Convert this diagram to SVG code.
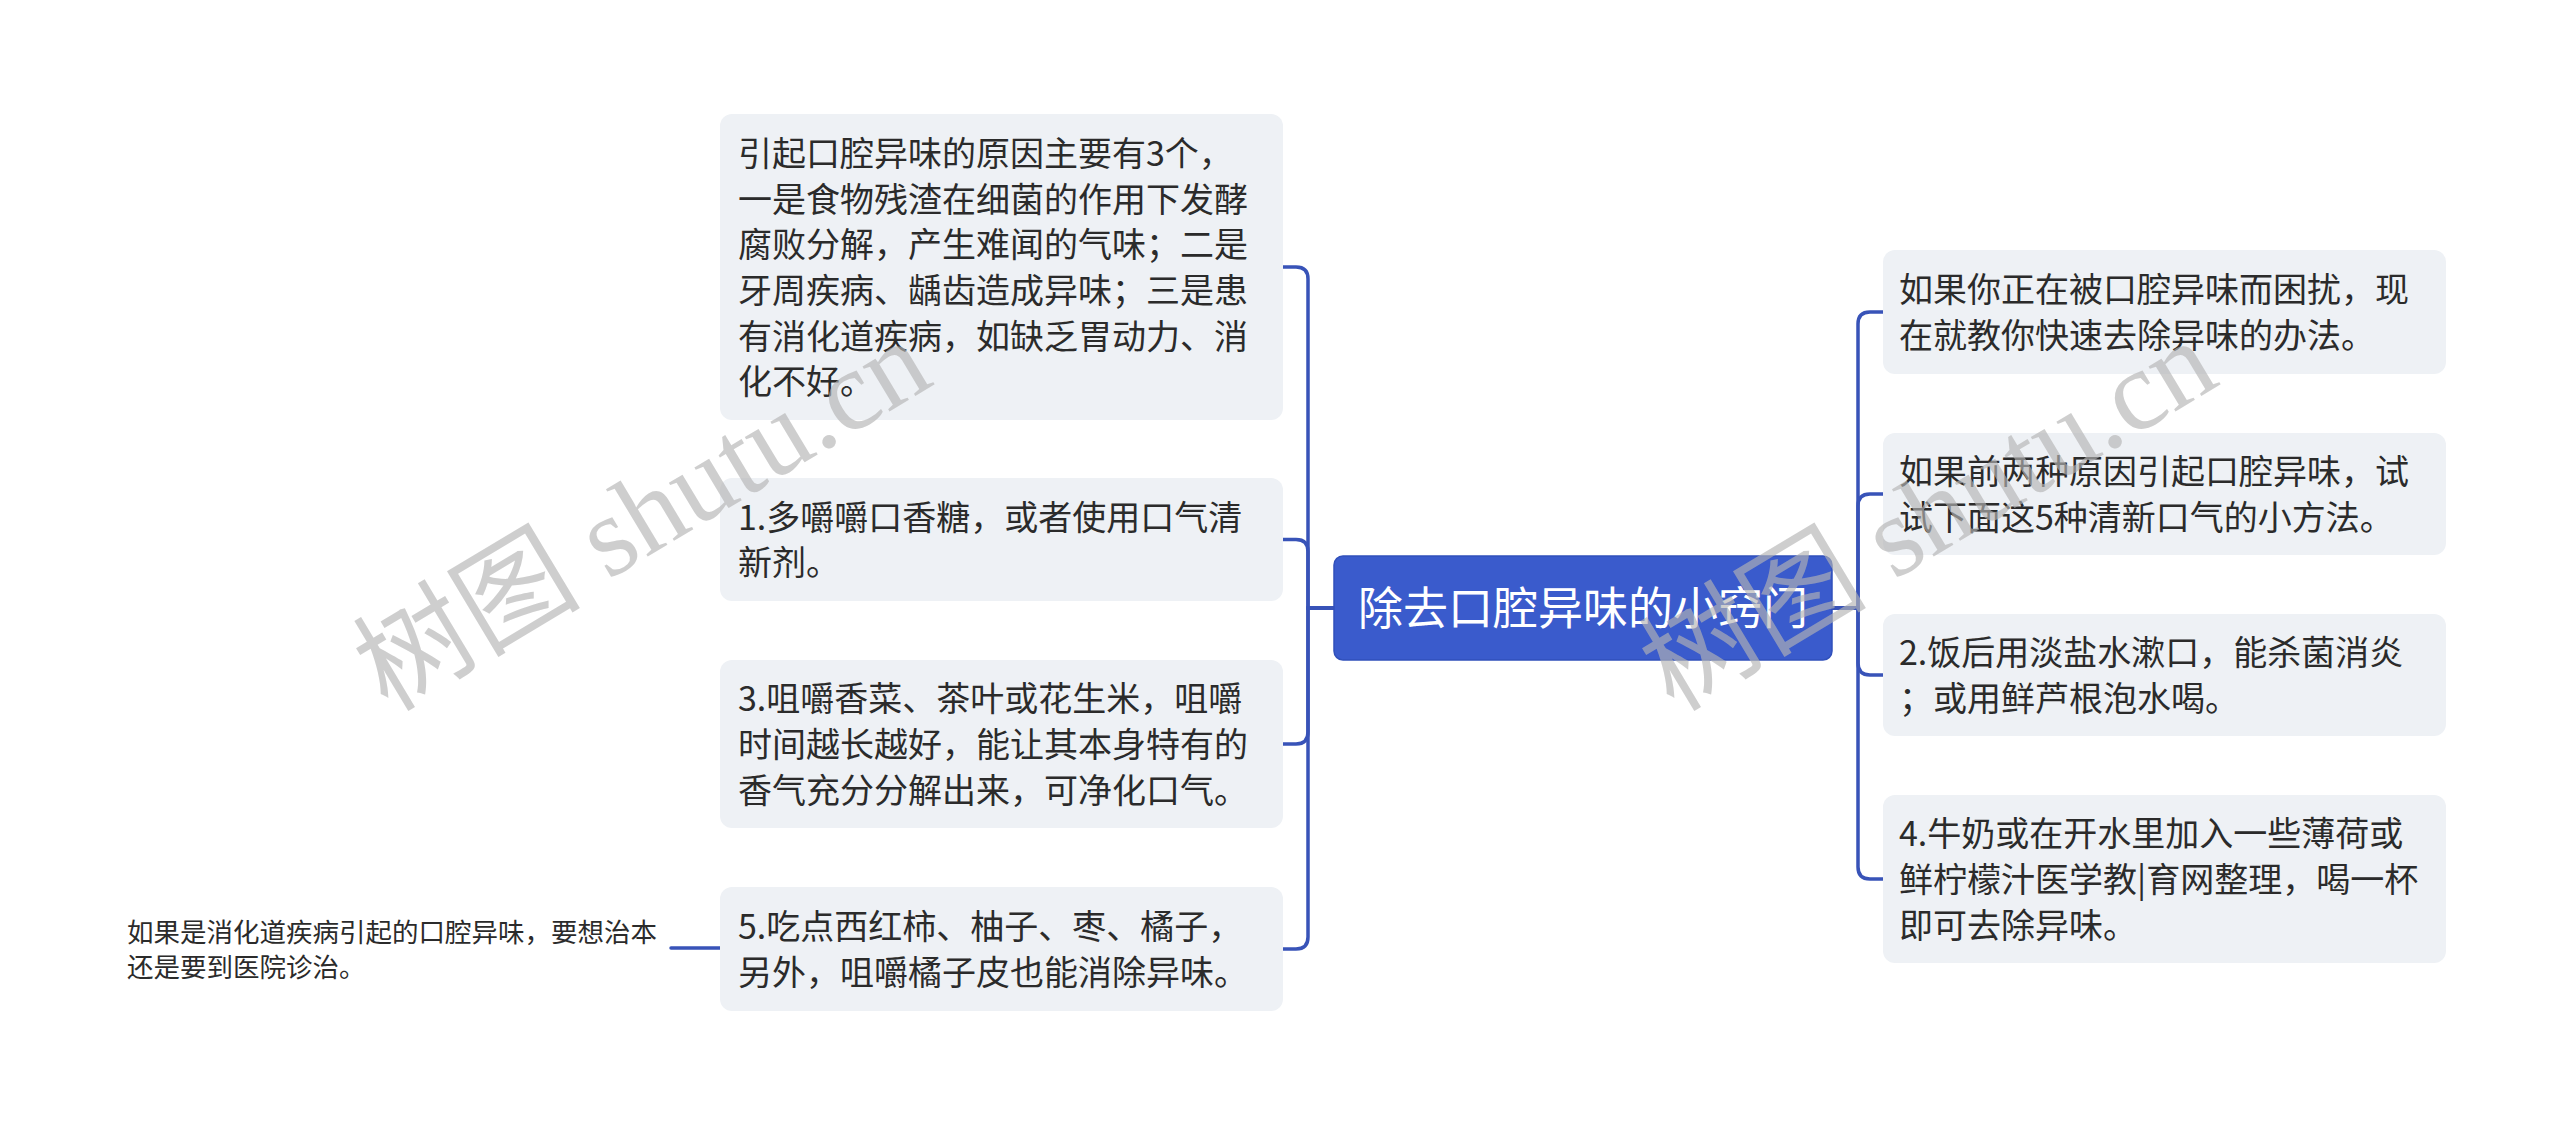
<svg xmlns="http://www.w3.org/2000/svg" width="2560" height="1125" viewBox="0 0 2560 1125">
<style>
.box{fill:#eef1f5;}
.t{font-family:"Noto Sans CJK SC","Noto Sans",sans-serif;font-size:34px;fill:#2b2b2b;}
.leaf{font-family:"Noto Sans CJK SC","Noto Sans",sans-serif;font-size:26.5px;fill:#2b2b2b;}
.ct{font-family:"Noto Sans CJK SC","Noto Sans",sans-serif;font-size:45px;fill:#ffffff;}
.c{fill:none;stroke:#3853b8;stroke-width:3.5;stroke-linecap:round;}
.wm{font-family:"Liberation Serif","Noto Sans CJK SC",serif;font-size:114px;fill:#b4b4b4;fill-opacity:0.65;}
</style>
<rect width="2560" height="1125" fill="#ffffff"/>
<g id="connectors">
<path class="c" d="M1334 608 H1308 V279 Q1308 267 1296 267 H1283"/>
<path class="c" d="M1334 608 H1308 V551.5 Q1308 539.5 1296 539.5 H1283"/>
<path class="c" d="M1334 608 H1308 V732 Q1308 744 1296 744 H1283"/>
<path class="c" d="M1334 608 H1308 V937 Q1308 949 1296 949 H1283"/>
<path class="c" d="M1832 608 H1858 V324 Q1858 312 1870 312 H1883"/>
<path class="c" d="M1832 608 H1858 V506 Q1858 494 1870 494 H1883"/>
<path class="c" d="M1832 608 H1858 V663 Q1858 675 1870 675 H1883"/>
<path class="c" d="M1832 608 H1858 V867 Q1858 879 1870 879 H1883"/>
<path class="c" d="M720 948 H671"/>
</g>
<g id="center">
<rect x="1334" y="556" width="498" height="104" rx="9" fill="#3a5bcc" stroke="#3050bb" stroke-width="1.5"/>
<text class="ct" x="1583" y="625" text-anchor="middle">除去口腔异味的小窍门</text>
</g>
<g id="nodeA">
<rect class="box" x="720" y="114" width="563" height="306" rx="12"/>
<text class="t" x="738"><tspan x="738" y="166">引起口腔异味的原因主要有3个，</tspan><tspan x="738" y="212">一是食物残渣在细菌的作用下发酵</tspan><tspan x="738" y="257">腐败分解，产生难闻的气味；二是</tspan><tspan x="738" y="303">牙周疾病、龋齿造成异味；三是患</tspan><tspan x="738" y="349">有消化道疾病，如缺乏胃动力、消</tspan><tspan x="738" y="394">化不好。</tspan></text>
</g>
<g id="node1">
<rect class="box" x="720" y="478" width="563" height="123" rx="12"/>
<text class="t"><tspan x="738" y="530">1.多嚼嚼口香糖，或者使用口气清</tspan><tspan x="738" y="575">新剂。</tspan></text>
</g>
<g id="node3">
<rect class="box" x="720" y="660" width="563" height="168" rx="12"/>
<text class="t"><tspan x="738" y="711">3.咀嚼香菜、茶叶或花生米，咀嚼</tspan><tspan x="738" y="757">时间越长越好，能让其本身特有的</tspan><tspan x="738" y="803">香气充分分解出来，可净化口气。</tspan></text>
</g>
<g id="node5">
<rect class="box" x="720" y="887" width="563" height="124" rx="12"/>
<text class="t"><tspan x="738" y="939">5.吃点西红柿、柚子、枣、橘子，</tspan><tspan x="738" y="985">另外，咀嚼橘子皮也能消除异味。</tspan></text>
</g>
<g id="leaf">
<text class="leaf"><tspan x="127" y="942">如果是消化道疾病引起的口腔异味，要想治本</tspan><tspan x="127" y="977">还是要到医院诊治。</tspan></text>
</g>
<g id="nodeR1">
<rect class="box" x="1883" y="250" width="563" height="124" rx="12"/>
<text class="t"><tspan x="1899" y="302">如果你正在被口腔异味而困扰，现</tspan><tspan x="1899" y="348">在就教你快速去除异味的办法。</tspan></text>
</g>
<g id="nodeR2">
<rect class="box" x="1883" y="433" width="563" height="122" rx="12"/>
<text class="t"><tspan x="1899" y="484">如果前两种原因引起口腔异味，试</tspan><tspan x="1899" y="530">试下面这5种清新口气的小方法。</tspan></text>
</g>
<g id="nodeR3">
<rect class="box" x="1883" y="614" width="563" height="122" rx="12"/>
<text class="t"><tspan x="1899" y="665">2.饭后用淡盐水漱口，能杀菌消炎</tspan><tspan x="1899" y="711">；或用鲜芦根泡水喝。</tspan></text>
</g>
<g id="nodeR4">
<rect class="box" x="1883" y="795" width="563" height="168" rx="12"/>
<text class="t"><tspan x="1899" y="846">4.牛奶或在开水里加入一些薄荷或</tspan><tspan x="1899" y="892">鲜柠檬汁医学教|育网整理，喝一杯</tspan><tspan x="1899" y="938">即可去除异味。</tspan></text>
</g>
<g id="watermarks">
<text class="wm" x="662" y="548" text-anchor="middle" transform="rotate(-31 662 548)">树图 shutu.cn</text>
<text class="wm" x="1948" y="548" text-anchor="middle" transform="rotate(-31 1948 548)">树图 shutu.cn</text>
</g>
</svg>
